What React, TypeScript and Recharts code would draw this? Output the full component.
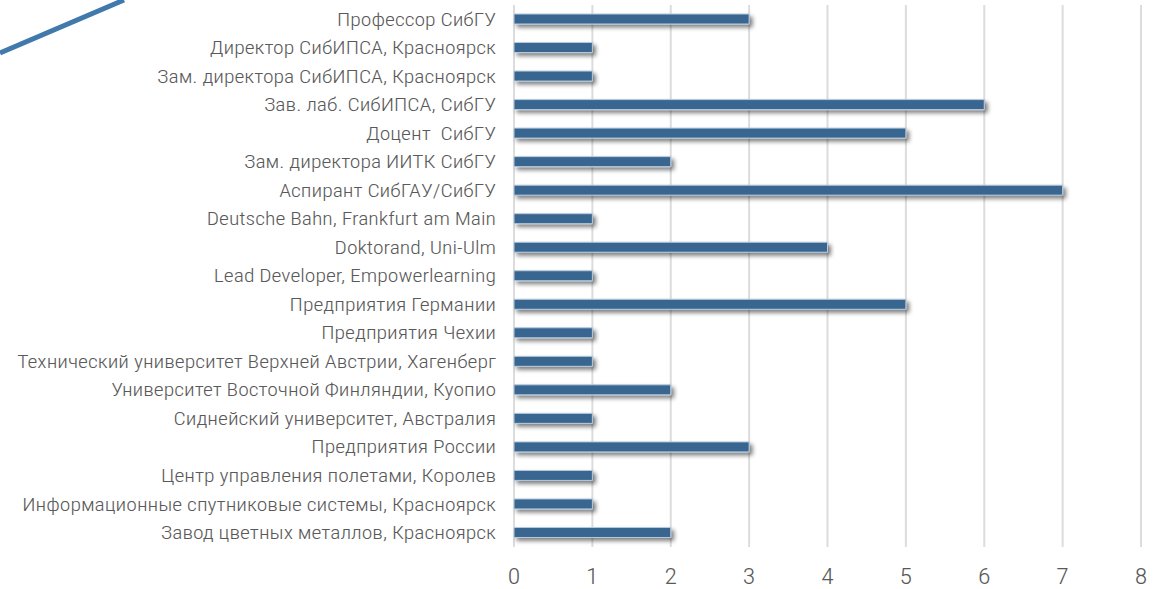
import { BarChart, Bar, XAxis, YAxis, CartesianGrid } from "recharts"

const categories = [
    "Профессор СибГУ",
    "Директор СибИПСА, Красноярск",
    "Зам. директора СибИПСА, Красноярск",
    "Зав. лаб. СибИПСА, СибГУ",
    "Доцент  СибГУ",
    "Зам. директора ИИТК СибГУ",
    "Аспирант СибГАУ/СибГУ",
    "Deutsche Bahn, Frankfurt am Main",
    "Doktorand, Uni-Ulm",
    "Lead Developer, Empowerlearning",
    "Предприятия Германии",
    "Предприятия Чехии",
    "Технический университет Верхней Австрии, Хагенберг",
    "Университет Восточной Финляндии, Куопио",
    "Сиднейский университет, Австралия",
    "Предприятия России",
    "Центр управления полетами, Королев",
    "Информационные спутниковые системы, Красноярск",
    "Завод цветных металлов, Красноярск",
]

const counts = [3, 1, 1, 6, 5, 2, 7, 1, 4, 1, 5, 1, 1, 2, 1, 3, 1, 1, 2]

const xTicks = [0, 1, 2, 3, 4, 5, 6, 7, 8]

const data = categories.map((name, i) => ({ name, value: counts[i] }))

const FONT = "'Roboto Condensed', 'Liberation Sans Narrow', Roboto, sans-serif"
const TEXT_COLOR = "#595959"

function CategoryTick(props: any) {
    const { x, y, payload } = props
    return (
        <g transform={`translate(${x},${y}) scale(1.2,1)`}>
            <text
                x={0}
                y={0}
                dy="0.35em"
                textAnchor="end"
                fill={TEXT_COLOR}
                fontSize={18}
                fontWeight={300}
                fontFamily={FONT}
                style={{ whiteSpace: "pre" }}
            >
                {payload.value}
            </text>
        </g>
    )
}

function NumberTick(props: any) {
    const { x, y, payload } = props
    return (
        <g transform={`translate(${x},${y}) scale(1.12,1)`}>
            <text
                x={0}
                y={0}
                dy="0.71em"
                textAnchor="middle"
                fill={TEXT_COLOR}
                fontSize={23}
                fontWeight={300}
                fontFamily={FONT}
            >
                {payload.value}
            </text>
        </g>
    )
}

export default function App() {
    return (
        <div style={{ position: "absolute", left: 0, top: 0, width: 1162, height: 589, background: "#fff" }}>
            <svg width={1162} height={589} style={{ position: "absolute", left: 0, top: 0 }}>
                <defs>
                    <filter id="barShadow" x="-10%" y="-60%" width="130%" height="280%">
                        <feGaussianBlur in="SourceAlpha" stdDeviation="2" />
                        <feOffset dx="3" dy="3" result="blur" />
                        <feComponentTransfer>
                            <feFuncA type="linear" slope="0.5" />
                        </feComponentTransfer>
                        <feMerge>
                            <feMergeNode />
                            <feMergeNode in="SourceGraphic" />
                        </feMerge>
                    </filter>
                </defs>
                <line x1={0} y1={53} x2={124} y2={0} stroke="#4179ac" strokeWidth={5} />
            </svg>
            <div style={{ position: "absolute", left: 0, top: 0 }}>
                <BarChart
                    width={1162}
                    height={589}
                    data={data}
                    layout="vertical"
                    margin={{ top: 5, right: 21, bottom: 0, left: 0 }}
                    barCategoryGap={0}
                >
                    <CartesianGrid horizontal={false} stroke="#dcdcdc" strokeWidth={2} />
                    <XAxis
                        type="number"
                        domain={[0, 8]}
                        ticks={xTicks}
                        axisLine={false}
                        tickLine={false}
                        tickSize={0}
                        tickMargin={21}
                        height={42}
                        tick={<NumberTick />}
                        interval={0}
                    />
                    <YAxis
                        type="category"
                        dataKey="name"
                        width={514}
                        axisLine={false}
                        tickLine={false}
                        tickSize={0}
                        tickMargin={18}
                        tick={<CategoryTick />}
                        interval={0}
                    />
                    <Bar
                        dataKey="value"
                        fill="#376690"
                        stroke="#b8cbdc"
                        strokeWidth={1}
                        barSize={10}
                        filter="url(#barShadow)"
                        isAnimationActive={false}
                    />
                </BarChart>
            </div>
        </div>
    )
}
